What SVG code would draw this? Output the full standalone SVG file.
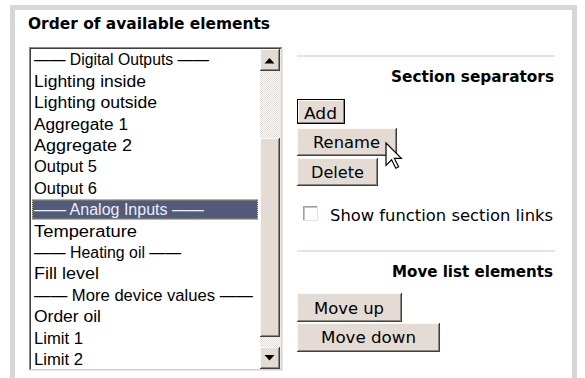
<svg xmlns="http://www.w3.org/2000/svg" width="585" height="378" viewBox="0 0 585 378">
<style>
.hdr{font-family:"DejaVu Sans",Verdana,sans-serif;font-weight:bold;font-size:15.4px;fill:#000}
.btn{font-family:"DejaVu Sans",Verdana,sans-serif;font-size:16px;fill:#000}
.li{font-family:"Liberation Sans",Arial,sans-serif;font-size:16px;fill:#000}
.face{fill:#e4dcd4}
.hi{fill:#fbf9f6}
.sh1{fill:#8c8680}
.sh2{fill:#404040}
.sep{fill:#ebe3db}
</style>
<defs>
<pattern id="chk" x="0" y="0" width="2" height="2" patternUnits="userSpaceOnUse">
<rect width="2" height="2" fill="#ffffff"/>
<rect width="1" height="1" fill="#e4dcd4"/>
<rect x="1" y="1" width="1" height="1" fill="#e4dcd4"/>
</pattern>
</defs>
<rect width="585" height="378" fill="#ffffff"/>
<rect x="12.5" y="7.5" width="562" height="380" fill="#ffffff" stroke="#d6d6d6" stroke-width="5"/>
<g id="title"><text class="hdr" x="28" y="29" textLength="242" lengthAdjust="spacingAndGlyphs">Order of available elements</text></g>
<g id="listbox">
<rect x="29" y="47" width="254" height="324" fill="#ffffff"/>
<rect x="29" y="47" width="254" height="1" fill="#8e8982"/>
<rect x="29" y="47" width="1" height="324" fill="#8e8982"/>
<rect x="30" y="48" width="252" height="1" fill="#404040"/>
<rect x="30" y="48" width="1" height="322" fill="#404040"/>
<rect x="29" y="370" width="254" height="1" fill="#ece6de"/>
<rect x="282" y="47" width="1" height="324" fill="#ece6de"/>
<rect x="30" y="369" width="252" height="1" fill="#d4d0c8"/>
<rect x="281" y="48" width="1" height="322" fill="#d4d0c8"/>
<rect x="32" y="199.5" width="226" height="20" fill="#525b7a"/>
<rect x="32.5" y="200" width="225" height="19" fill="none" stroke="#d8c878" stroke-width="1" stroke-dasharray="1 1"/>
<text class="li" x="34" y="65.3" textLength="175" lengthAdjust="spacingAndGlyphs">—— Digital Outputs ——</text>
<text class="li" x="34" y="86.7" textLength="112" lengthAdjust="spacingAndGlyphs">Lighting inside</text>
<text class="li" x="34" y="108.1" textLength="123" lengthAdjust="spacingAndGlyphs">Lighting outside</text>
<text class="li" x="34" y="129.5" textLength="94" lengthAdjust="spacingAndGlyphs">Aggregate 1</text>
<text class="li" x="34" y="150.9" textLength="98" lengthAdjust="spacingAndGlyphs">Aggregate 2</text>
<text class="li" x="34" y="172.3" textLength="63" lengthAdjust="spacingAndGlyphs">Output 5</text>
<text class="li" x="34" y="193.7" textLength="63" lengthAdjust="spacingAndGlyphs">Output 6</text>
<text class="li" x="34" y="215.1" textLength="170" lengthAdjust="spacingAndGlyphs" style="fill:#eeeef8">—— Analog Inputs ——</text>
<text class="li" x="34" y="236.5" textLength="103" lengthAdjust="spacingAndGlyphs">Temperature</text>
<text class="li" x="34" y="257.9" textLength="147" lengthAdjust="spacingAndGlyphs">—— Heating oil ——</text>
<text class="li" x="34" y="279.3" textLength="65" lengthAdjust="spacingAndGlyphs">Fill level</text>
<text class="li" x="34" y="300.7" textLength="219" lengthAdjust="spacingAndGlyphs">—— More device values ——</text>
<text class="li" x="34" y="322.1" textLength="67" lengthAdjust="spacingAndGlyphs">Order oil</text>
<text class="li" x="34" y="343.5" textLength="49" lengthAdjust="spacingAndGlyphs">Limit 1</text>
<text class="li" x="34" y="364.9" textLength="49" lengthAdjust="spacingAndGlyphs">Limit 2</text>
</g>
<g id="scrollbar">
<rect x="260" y="49" width="21" height="320" fill="url(#chk)"/>
<g id="scroll-up">
<rect x="260" y="49" width="20" height="22" class="face"/>
<rect x="260" y="49" width="20" height="1" class="hi"/>
<rect x="260" y="49" width="1" height="22" class="hi"/>
<rect x="260" y="70" width="20" height="1" class="sh2"/>
<rect x="279" y="49" width="1" height="22" class="sh2"/>
<rect x="261" y="69" width="18" height="1" class="sh1"/>
<rect x="278" y="50" width="1" height="20" class="sh1"/>
<polygon points="264.5,63.5 274.5,63.5 269.5,58" fill="#000"/>
</g>
<g id="scroll-thumb">
<rect x="260" y="138" width="20" height="199" class="face"/>
<rect x="260" y="138" width="20" height="1" class="hi"/>
<rect x="260" y="138" width="1" height="199" class="hi"/>
<rect x="260" y="336" width="20" height="1" class="sh2"/>
<rect x="279" y="138" width="1" height="199" class="sh2"/>
<rect x="261" y="335" width="18" height="1" class="sh1"/>
<rect x="278" y="139" width="1" height="197" class="sh1"/>
</g>
<g id="scroll-down">
<rect x="260" y="347" width="20" height="22" class="face"/>
<rect x="260" y="347" width="20" height="1" class="hi"/>
<rect x="260" y="347" width="1" height="22" class="hi"/>
<rect x="260" y="368" width="20" height="1" class="sh2"/>
<rect x="279" y="347" width="1" height="22" class="sh2"/>
<rect x="261" y="367" width="18" height="1" class="sh1"/>
<rect x="278" y="348" width="1" height="20" class="sh1"/>
<polygon points="264.5,355 274.5,355 269.5,360.5" fill="#000"/>
</g>
</g>
<g id="section-separators">
<rect x="297" y="55" width="258" height="2" class="sep"/>
<text class="hdr" x="554" y="82" text-anchor="end" textLength="163" lengthAdjust="spacingAndGlyphs">Section separators</text>
</g>
<g id="btn-add">
<rect x="297" y="99" width="48" height="25" fill="#000"/>
<rect x="298" y="100" width="46" height="23" class="face"/>
<rect x="298" y="100" width="46" height="1" class="hi"/>
<rect x="298" y="100" width="1" height="23" class="hi"/>
<rect x="298" y="122" width="46" height="1" class="sh1"/>
<rect x="343" y="100" width="1" height="23" class="sh1"/>
<text class="btn" x="304" y="119" textLength="33" lengthAdjust="spacingAndGlyphs">Add</text>
</g>
<g id="btn-rename">
<rect x="297" y="128" width="100" height="28" class="face"/>
<rect x="297" y="128" width="100" height="1" class="hi"/>
<rect x="297" y="128" width="1" height="28" class="hi"/>
<rect x="297" y="155" width="100" height="1" class="sh2"/>
<rect x="396" y="128" width="1" height="28" class="sh2"/>
<rect x="298" y="154" width="98" height="1" class="sh1"/>
<rect x="395" y="129" width="1" height="26" class="sh1"/>
<text class="btn" x="313" y="148" textLength="67" lengthAdjust="spacingAndGlyphs">Rename</text>
</g>
<g id="btn-delete">
<rect x="297" y="158" width="81" height="28" class="face"/>
<rect x="297" y="158" width="81" height="1" class="hi"/>
<rect x="297" y="158" width="1" height="28" class="hi"/>
<rect x="297" y="185" width="81" height="1" class="sh2"/>
<rect x="377" y="158" width="1" height="28" class="sh2"/>
<rect x="298" y="184" width="79" height="1" class="sh1"/>
<rect x="376" y="159" width="1" height="26" class="sh1"/>
<text class="btn" x="311" y="178" textLength="53" lengthAdjust="spacingAndGlyphs">Delete</text>
</g>
<g id="cursor">
<path d="M0,0 L0,22.4 L5.6,16.8 L9.8,25.2 L12.6,23.8 L8.4,15.4 L15.4,15.4 Z" transform="translate(386,143)" fill="#ffffff" stroke="#000" stroke-width="1.2" stroke-linejoin="miter"/>
</g>
<g id="chk-links">
<rect x="303" y="206" width="15" height="15" fill="#ffffff"/>
<rect x="303" y="206" width="15" height="1" fill="#a59f98"/>
<rect x="303" y="206" width="1" height="15" fill="#a59f98"/>
<rect x="304" y="207" width="13" height="1" fill="#c8c2ba"/>
<rect x="304" y="207" width="1" height="13" fill="#c8c2ba"/>
<rect x="303" y="220" width="15" height="1" fill="#e8e2da"/>
<rect x="317" y="206" width="1" height="15" fill="#e8e2da"/>
<text class="btn" x="330" y="221" textLength="223" lengthAdjust="spacingAndGlyphs">Show function section links</text>
</g>
<g id="move-list">
<rect x="297" y="250" width="258" height="2" class="sep"/>
<text class="hdr" x="553" y="277" text-anchor="end" textLength="161" lengthAdjust="spacingAndGlyphs">Move list elements</text>
</g>
<g id="btn-move-up">
<rect x="297" y="293" width="105" height="29" class="face"/>
<rect x="297" y="293" width="105" height="1" class="hi"/>
<rect x="297" y="293" width="1" height="29" class="hi"/>
<rect x="297" y="321" width="105" height="1" class="sh2"/>
<rect x="401" y="293" width="1" height="29" class="sh2"/>
<rect x="298" y="320" width="103" height="1" class="sh1"/>
<rect x="400" y="294" width="1" height="27" class="sh1"/>
<text class="btn" x="314" y="314" textLength="70" lengthAdjust="spacingAndGlyphs">Move up</text>
</g>
<g id="btn-move-down">
<rect x="297" y="323" width="143" height="29" class="face"/>
<rect x="297" y="323" width="143" height="1" class="hi"/>
<rect x="297" y="323" width="1" height="29" class="hi"/>
<rect x="297" y="351" width="143" height="1" class="sh2"/>
<rect x="439" y="323" width="1" height="29" class="sh2"/>
<rect x="298" y="350" width="141" height="1" class="sh1"/>
<rect x="438" y="324" width="1" height="27" class="sh1"/>
<text class="btn" x="321" y="343" textLength="95" lengthAdjust="spacingAndGlyphs">Move down</text>
</g>
</svg>
